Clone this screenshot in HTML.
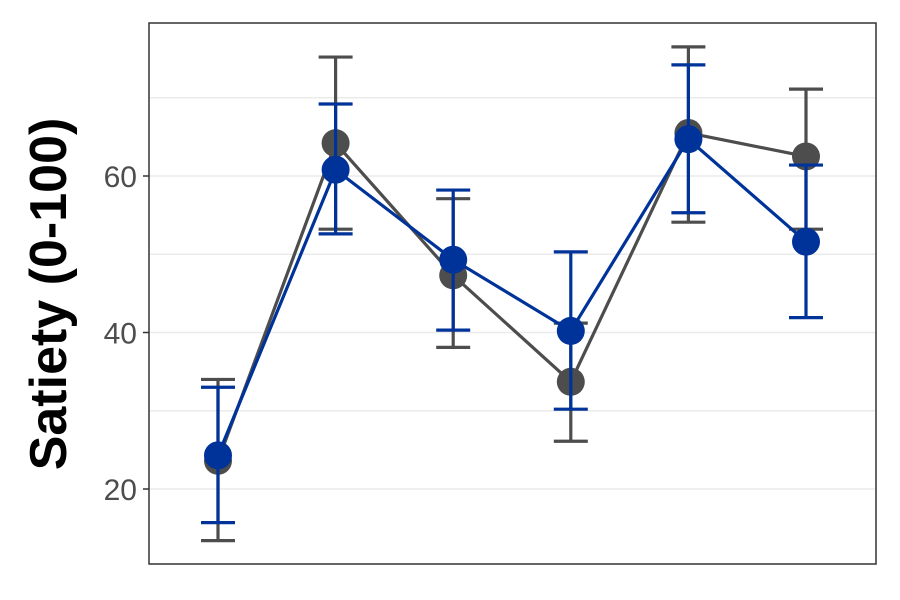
<!DOCTYPE html>
<html><head><meta charset="utf-8"><style>
body{margin:0;background:#fff;}
svg{display:block;font-family:"Liberation Sans",sans-serif;}
</style></head><body>
<svg id="chart" width="900" height="600" viewBox="0 0 900 600"></svg>
<script>
const categories=["t1","t2","t3","t4","t5","t6"];
const grayMean=[23.6,64.2,47.3,33.7,65.5,62.5];
const grayLow=[13.4,53.2,38.1,26.1,54.1,53.2];
const grayHigh=[34.0,75.2,57.1,41.2,76.5,71.1];
const blueMean=[24.3,60.8,49.3,40.2,64.7,51.6];
const blueLow=[15.7,52.6,40.3,30.2,55.3,41.9];
const blueHigh=[33.0,69.2,58.2,50.3,74.2,61.4];
const yTicks=[20,40,60];
const yMinor=[30,50,70];

const svg=document.getElementById('chart');
const NS='http://www.w3.org/2000/svg';
function mk(t,a,p){const e=document.createElementNS(NS,t);for(const k in a)e.setAttribute(k,a[k]);(p||svg).appendChild(e);return e;}
const L=149,R=876,T=23,B=564;
function y(v){return 489-(v-20)*7.825;}
function x(i){return 218+i*117.6;}

const grid=mk('g',{});


yMinor.concat(yTicks).forEach(v=>{mk('line',{x1:L,x2:R,y1:y(v),y2:y(v),stroke:'#ebebeb','stroke-width':1.5},grid);});

const yAxis=mk('g',{});


yTicks.forEach(v=>{
  mk('line',{x1:L-6,x2:L,y1:y(v),y2:y(v),stroke:'#333','stroke-width':1.5},yAxis);
  const t=mk('text',{x:L-12,y:y(v)+11,'text-anchor':'end','font-size':30,fill:'#4d4d4d'},yAxis);
  t.textContent=v;
  
  
});
const yt=mk('text',{x:0,y:0,transform:'translate(66,294) rotate(-90)','text-anchor':'middle','font-size':52,'font-weight':'bold',fill:'#000'});
yt.textContent='Satiety (0-100)';



function series(mean,lo,hi,col,name){
  const g=mk('g',{});
  
  
  mean.forEach((m,i)=>{
    mk('line',{x1:x(i),x2:x(i),y1:y(lo[i]),y2:y(hi[i]),stroke:col,'stroke-width':3.2},g);
    mk('line',{x1:x(i)-17,x2:x(i)+17,y1:y(lo[i]),y2:y(lo[i]),stroke:col,'stroke-width':3.2},g);
    mk('line',{x1:x(i)-17,x2:x(i)+17,y1:y(hi[i]),y2:y(hi[i]),stroke:col,'stroke-width':3.2},g);
  });
  mk('polyline',{points:mean.map((m,i)=>x(i)+','+y(m)).join(' '),fill:'none',stroke:col,'stroke-width':3.2},g);
  mean.forEach((m,i)=>{
    const c=mk('circle',{cx:x(i),cy:y(m),r:14,fill:col},g);
    
    
  });
}
series(grayMean,grayLow,grayHigh,'#4d4d4d','gray-series');
series(blueMean,blueLow,blueHigh,'#003399','blue-series');

const frame=mk('rect',{x:L,y:T,width:R-L,height:B-T,fill:'none',stroke:'#333','stroke-width':1.5});


</script>
</body></html>
